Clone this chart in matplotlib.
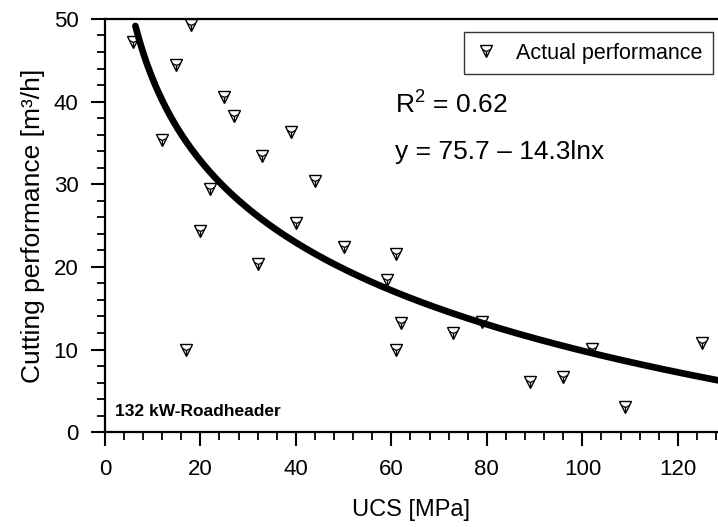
# Cutting performance vs UCS for a 132 kW roadheader
import numpy as np
import matplotlib
matplotlib.use("Agg")
import matplotlib.pyplot as plt
from matplotlib.ticker import MultipleLocator

plt.rcParams['font.family'] = ['Liberation Sans', 'DejaVu Sans']
plt.rcParams['mathtext.fontset'] = 'custom'
plt.rcParams['mathtext.rm'] = 'Liberation Sans'

ucs = [6, 18, 15, 25, 27, 39, 12, 33, 44, 22, 20, 40, 32, 50, 61, 59,
       17, 62, 61, 79, 73, 89, 96, 102, 109, 125]
perf = [47.2, 49.3, 44.4, 40.5, 38.2, 36.3, 35.4, 33.4, 30.4, 29.4, 24.3, 25.3,
        20.4, 22.4, 21.5, 18.4, 10.0, 13.2, 10.0, 13.3, 12.0, 6.1, 6.7, 10.1,
        3.0, 10.8]

# fit y = a - b ln x
a, b = 75.7, 14.3
x_fit = np.linspace(6.4, 128.5, 300)
y_fit = a - b * np.log(x_fit)

fig = plt.figure(figsize=(7.18, 5.27), dpi=100)
ax = fig.add_axes([0.146, 0.180, 0.854, 0.784])

ax.plot(x_fit, y_fit, color='black', lw=4.8, solid_capstyle='round', zorder=2)
h1, = ax.plot(ucs, perf, ls='none', marker='v', ms=8, mfc='none', mec='black', mew=1.0, zorder=3)
h2, = ax.plot(ucs, perf, ls='none', marker='1', ms=7, color='black', mew=0.9, zorder=3)

ax.set_xlim(0, 128.4)
ax.set_ylim(0, 50)
ax.xaxis.set_major_locator(MultipleLocator(20))
ax.xaxis.set_minor_locator(MultipleLocator(4))
ax.yaxis.set_major_locator(MultipleLocator(10))
ax.yaxis.set_minor_locator(MultipleLocator(2))
ax.tick_params(which='major', direction='out', length=10, width=1.5, labelsize=16, pad=9)
ax.tick_params(which='minor', direction='out', length=6, width=1.3)
ax.spines['right'].set_visible(False)
for s in ['left', 'bottom', 'top']:
    ax.spines[s].set_linewidth(1.6)

ax.set_xlabel('UCS [MPa]', fontsize=17, labelpad=14)
ax.set_ylabel('Cutting performance [m³/h]', fontsize=19, labelpad=6)

ax.legend([(h1, h2)], ['Actual performance'], loc='upper right',
          bbox_to_anchor=(0.992, 0.969), borderaxespad=0, fontsize=15.5,
          frameon=True, fancybox=False, edgecolor='black', handlelength=1.0,
          handletextpad=0.9, borderpad=0.5)
ax.get_legend().get_frame().set_linewidth(1.0)

ax.text(0.474, 0.795, 'R$^2$ = 0.62', transform=ax.transAxes, fontsize=19, va='center')
ax.text(0.474, 0.677, 'y = 75.7 – 14.3lnx', transform=ax.transAxes, fontsize=19, va='center')
ax.text(0.016, 0.05, '132 kW-Roadheader', transform=ax.transAxes, fontsize=12.5,
        fontweight='bold', va='center')

fig.savefig('out.png', dpi=100)
